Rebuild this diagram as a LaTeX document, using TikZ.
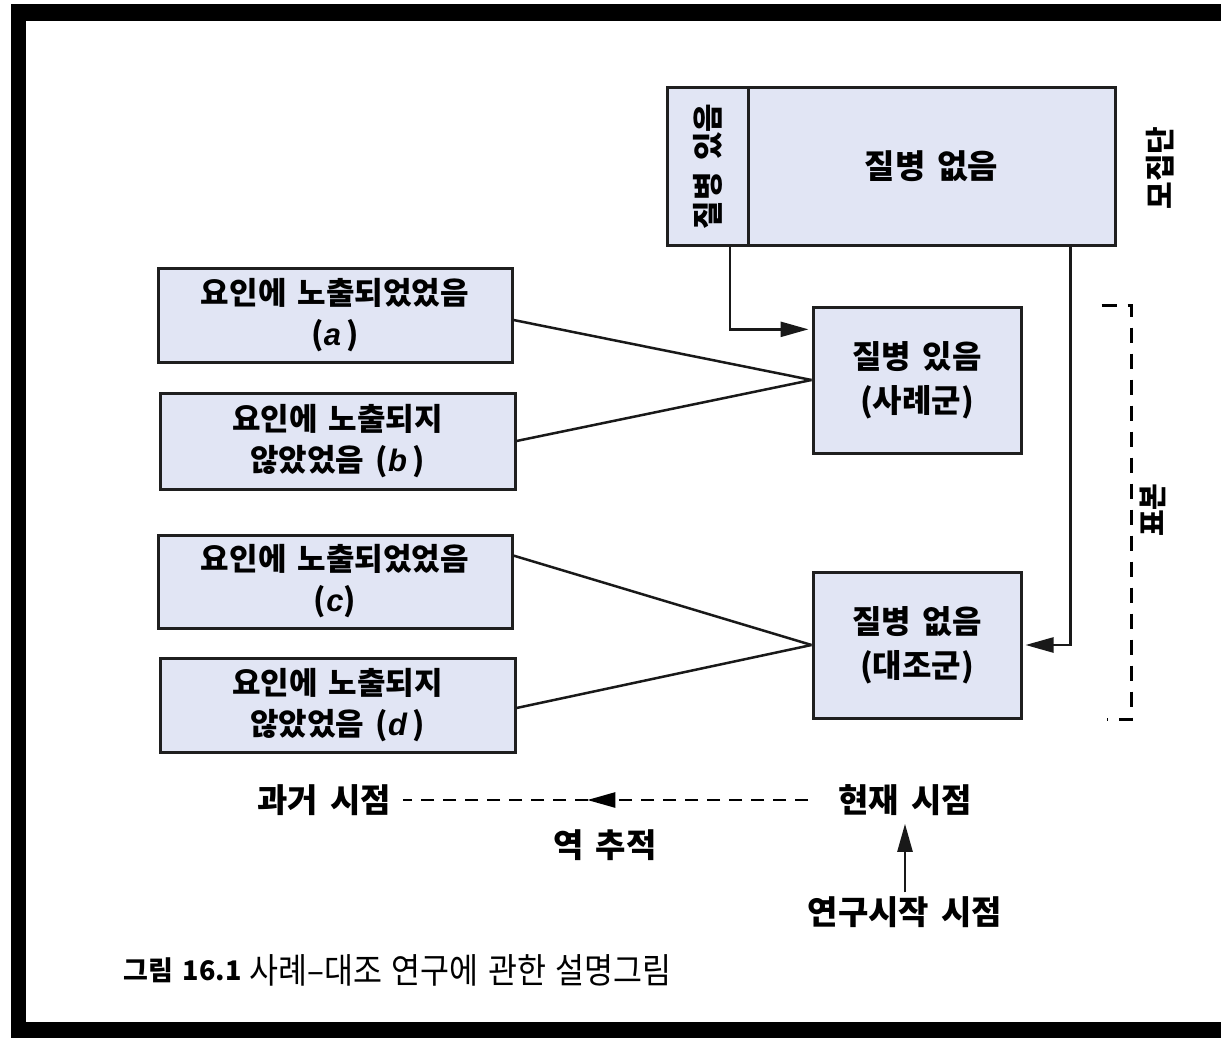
\documentclass[tikz,border=0pt]{standalone}
\usepackage{fontspec}
\setmainfont{Noto Sans CJK KR}[WordSpace=1.6]
\newfontfamily\lat{Liberation Sans}
\newfontfamily\capfont[FakeStretch=0.9,WordSpace=1.3]{Noto Sans CJK KR}
\usetikzlibrary{arrows.meta,calc,decorations.markings}
\definecolor{boxfill}{RGB}{225,229,244}
\newcommand{\lt}[1]{{\lat\itshape\bfseries #1}}
\tikzset{
  box/.style={draw=black!88, line width=3pt, fill=boxfill, align=center, inner sep=0pt,
              font=\fontsize{31}{41}\selectfont\bfseries},
  conn/.style={line width=2.5pt, draw=black!90},
  tipend/.style={-{Triangle[length=28pt,width=15pt]}},
  lbl/.style={font=\fontsize{33}{38}\selectfont\bfseries, inner sep=0pt},
  dashline/.style={line width=2.5pt, dash pattern=on 13pt off 9pt},
}
\begin{document}
\begin{tikzpicture}[x=1pt,y=-1pt]
\useasboundingbox (0,0) rectangle (1221,1038);
\fill[white] (0,0) rectangle (1221,1038);
% frame
\fill[black] (11,4) rectangle (1221,21);
\fill[black] (11,4) rectangle (26,1038);
\fill[black] (11,1022) rectangle (1221,1038);

% population
\node[box, minimum width=81pt, minimum height=157pt] (popyes) at (707.5,166.5) {};
\node[lbl, rotate=90, font=\fontsize{31}{36}\selectfont\bfseries] (popyestxt) at (popyes.center) {질병 있음};
\node[box, minimum width=367pt, minimum height=157pt, font=\fontsize{33}{40}\selectfont\bfseries] (popno) at (931.5,166.5) {질병 없음};
\node[lbl, rotate=90, font=\fontsize{30}{36}\selectfont\bfseries] (poplbl) at (1160,168) {모집단};

% exposure boxes
\node[box, minimum width=354pt, minimum height=94pt] (a) at (335,315) {요인에 노출되었었음\\(\lt{a}\,)};
\node[box, minimum width=355pt, minimum height=96pt] (b) at (337.5,441) {요인에 노출되지\\않았었음 (\lt{b}\,)};
\node[box, minimum width=354pt, minimum height=93pt] (c) at (335,581.5) {요인에 노출되었었음\\(\lt{c})};
\node[box, minimum width=355pt, minimum height=94pt] (d) at (337.5,705) {요인에 노출되지\\않았었음 (\lt{d}\,)};

% sample boxes
\node[box, minimum width=208pt, minimum height=146pt, font=\fontsize{32}{44}\selectfont\bfseries] (case) at (917,380) {질병 있음\\(사례군)};
\node[box, minimum width=208pt, minimum height=146pt, font=\fontsize{32}{44}\selectfont\bfseries] (ctrl) at (917,645) {질병 없음\\(대조군)};

% connectors
\draw[conn] ([yshift=-5pt]a.east) -- (case.west);
\draw[conn] (b.east) -- (case.west);
\draw[conn] ($(c.north east)!0.23!(c.south east)$) -- (ctrl.west);
\draw[conn] ([yshift=-3pt]d.east) -- (ctrl.west);

\coordinate (yesout) at ($(popyes.south west)!0.77!(popyes.south east)$);
\coordinate (casein) at ($(case.north west)!0.16!(case.south west)$);
\draw[conn, tipend] (yesout) |- ([xshift=-3pt]casein);
\coordinate (noout) at ($(popno.south west)!0.876!(popno.south east)$);
\draw[conn, tipend] (noout) |- ([xshift=3pt]ctrl.east);

% sample bracket
\coordinate (bt0) at ($(case.north east)+(79pt,0)$);
\coordinate (bt1) at ($(case.north east)+(109pt,0)$);
\coordinate (bb1) at ($(ctrl.south east)+(109pt,0)$);
\coordinate (bb0) at ($(ctrl.south east)+(84pt,0)$);
\draw[line width=3pt, dash pattern=on 15pt off 11pt] (bt0) -- (bt1) -- (bb1) -- (bb0);
\node[lbl, rotate=90, font=\fontsize{29}{36}\selectfont\bfseries] (samplbl) at (1153,510) {표본};

% time axis
\node[lbl] (past) at (324,800) {과거 시점};
\node[lbl] (now) at (905,800) {현재 시점};
\node[lbl] (trace) at (605,845) {역 추적};
\node[lbl] (start) at (905,912) {연구시작 시점};
\draw[dashline, postaction={decorate}, decoration={markings,
   mark=at position 0.545 with {\arrow{Triangle[length=28pt,width=15pt]}}}]
   ([xshift=-30pt]now.west) -- ([xshift=12pt]past.east);
\draw[conn, tipend] ([yshift=4pt]start.north) -- ([yshift=-8pt]now.south);

% caption
\node[anchor=west, inner sep=0pt, font=\fontsize{27}{30}\selectfont\bfseries] (capnum) at (123,970) {그림 16.1};
\node[anchor=west, inner sep=0pt, font=\fontsize{35}{38}\capfont] (captxt) at ([xshift=8pt]capnum.east) {사례–대조 연구에 관한 설명그림};
\end{tikzpicture}
\end{document}
